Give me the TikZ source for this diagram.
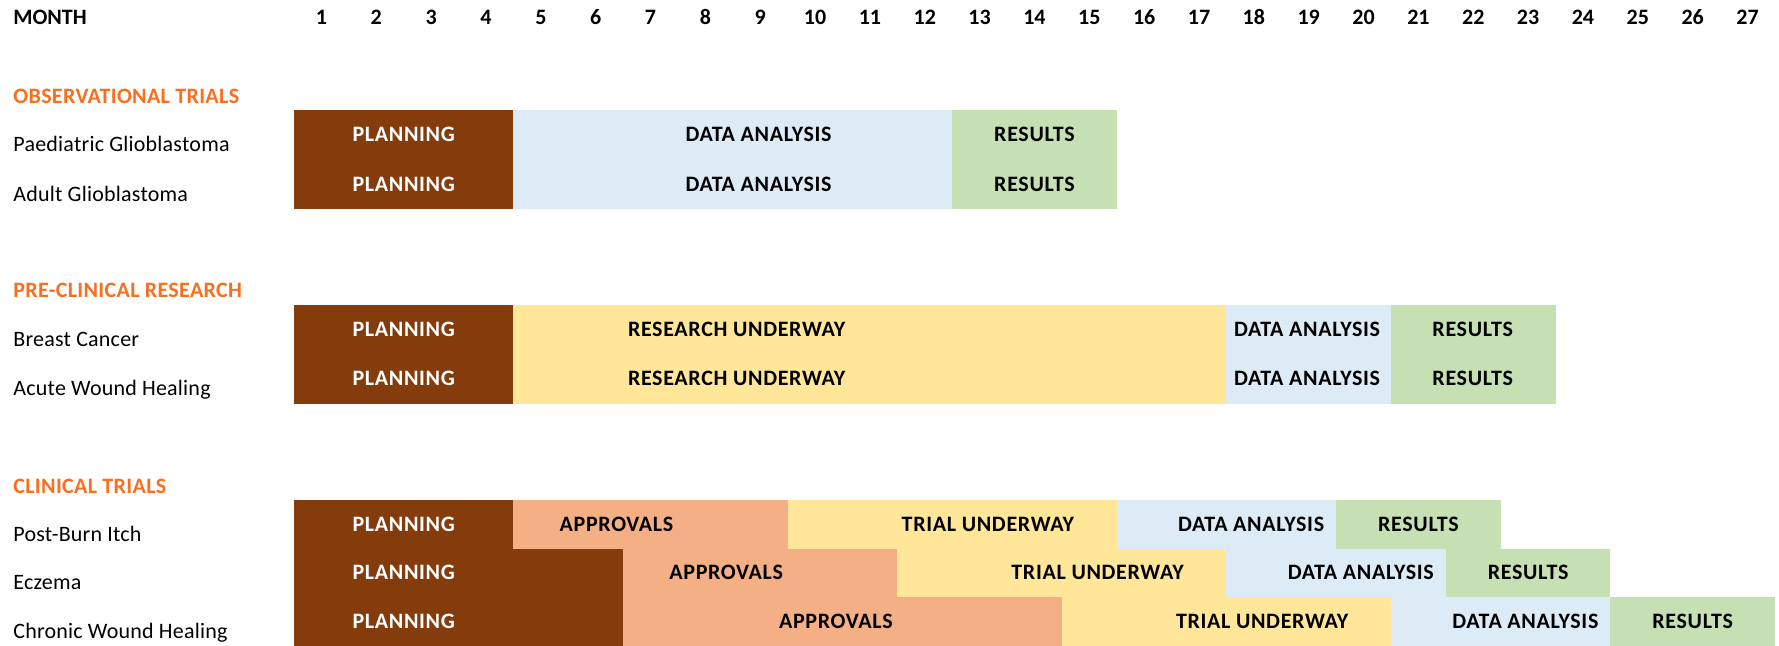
\documentclass[tikz,border=0pt]{standalone}
\usepackage{fontspec}
\setmainfont{Carlito}

\definecolor{planbrown}{HTML}{843C0C}
\definecolor{datablue}{HTML}{DDEBF7}
\definecolor{resgreen}{HTML}{C6E0B4}
\definecolor{workyellow}{HTML}{FFE699}
\definecolor{apprsalmon}{HTML}{F4B084}
\definecolor{headorange}{HTML}{FA6E1E}

\tikzset{
  monthtext/.style={font=\fontsize{11}{13}\selectfont\bfseries, inner sep=0pt, anchor=base},
  headtext/.style={font=\fontsize{11}{13}\selectfont\bfseries\addfontfeature{LetterSpace=1.5}, text=headorange, inner sep=0pt, anchor=base west},
  rowlabel/.style={font=\fontsize{11}{13}\selectfont\addfontfeature{LetterSpace=1}, inner sep=0pt, anchor=base west},
  phasetext/.style={font=\fontsize{11}{13}\selectfont\bfseries\addfontfeature{LetterSpace=3}, inner sep=0pt, anchor=base}
}

% grid of the chart (in pixels)
\def\xZero{294}
\def\colW{54.85}

% one row of the chart: name, label, centre y, height, phases
\newcommand{\ganttrow}[5]{%
  \node[rowlabel] (#1-label) at (13,{#3+17}) {#2};
  \foreach \first/\last/\fillc/\textc/\tx/\txt [count=\i] in {#5} {
    \fill[\fillc] ({\xZero+(\first-1)*\colW},{#3-#4/2}) rectangle ({\xZero+\last*\colW},{#3+#4/2});
    \node[phasetext, text=\textc] (#1-\i) at ({\xZero+\tx*\colW},{#3+7}) {\txt};
  }%
}

\begin{document}
\begin{tikzpicture}[x=0.5pt,y=-0.5pt]
    \useasboundingbox (0,0) rectangle (1779,645);

    % Month header
    \node[monthtext, anchor=base west] (month) at (13,24) {MONTH};
    \foreach \m in {1,...,27}
      \node[monthtext] (month-\m) at ({\xZero+(\m-0.5)*\colW},24) {\m};

    % Observational trials
    \node[headtext] (obs) at (13,103) {OBSERVATIONAL TRIALS};
    \ganttrow{paed}{Paediatric Glioblastoma}{134.75}{49.5}{1/4/planbrown/white/2/PLANNING, 5/12/datablue/black/8.47/DATA ANALYSIS, 13/15/resgreen/black/13.5/RESULTS}
    \ganttrow{adult}{Adult Glioblastoma}{184.25}{49.5}{1/4/planbrown/white/2/PLANNING, 5/12/datablue/black/8.47/DATA ANALYSIS, 13/15/resgreen/black/13.5/RESULTS}

    % Pre-clinical research
    \node[headtext] (pre) at (13,297.5) {PRE-CLINICAL RESEARCH};
    \ganttrow{breast}{Breast Cancer}{329.25}{49.5}{1/4/planbrown/white/2/PLANNING, 5/17/workyellow/black/8.07/RESEARCH UNDERWAY, 18/20/datablue/black/18.47/DATA ANALYSIS, 21/23/resgreen/black/21.49/RESULTS}
    \ganttrow{acute}{Acute Wound Healing}{378.75}{49.5}{1/4/planbrown/white/2/PLANNING, 5/17/workyellow/black/8.07/RESEARCH UNDERWAY, 18/20/datablue/black/18.47/DATA ANALYSIS, 21/23/resgreen/black/21.49/RESULTS}

    % Clinical trials
    \node[headtext] (clin) at (13,493) {CLINICAL TRIALS};
    \ganttrow{burn}{Post-Burn Itch}{524.25}{48.5}{1/4/planbrown/white/2/PLANNING, 5/9/apprsalmon/black/5.88/APPROVALS, 10/15/workyellow/black/12.65/TRIAL UNDERWAY, 16/19/datablue/black/17.45/DATA ANALYSIS, 20/22/resgreen/black/20.5/RESULTS}
    \ganttrow{eczema}{Eczema}{572.75}{48.5}{1/6/planbrown/white/2/PLANNING, 7/11/apprsalmon/black/7.88/APPROVALS, 12/17/workyellow/black/14.65/TRIAL UNDERWAY, 18/21/datablue/black/19.45/DATA ANALYSIS, 22/24/resgreen/black/22.5/RESULTS}
    \ganttrow{chronic}{Chronic Wound Healing}{621.25}{48.5}{1/6/planbrown/white/2/PLANNING, 7/14/apprsalmon/black/9.88/APPROVALS, 15/20/workyellow/black/17.65/TRIAL UNDERWAY, 21/24/datablue/black/22.45/DATA ANALYSIS, 25/27/resgreen/black/25.5/RESULTS}
\end{tikzpicture}
\end{document}
